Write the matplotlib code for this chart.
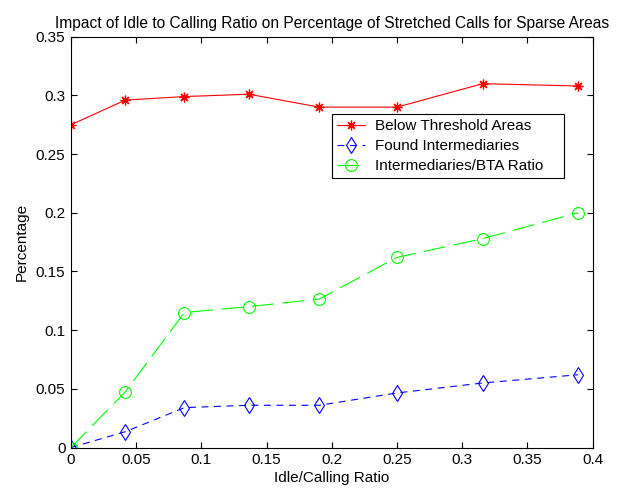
import matplotlib
matplotlib.use('Agg')
import matplotlib.pyplot as plt

plt.rcParams['font.family'] = ['Liberation Sans', 'DejaVu Sans']
plt.rcParams['lines.scale_dashes'] = False

# ratio idle / calling
ratio = [0, 0.0417, 0.0870, 0.1364, 0.1905, 0.25, 0.3158, 0.3889]
below_threshold = [0.275, 0.296, 0.299, 0.301, 0.290, 0.290, 0.310, 0.308]
found_interm = [0, 0.0135, 0.034, 0.036, 0.036, 0.0465, 0.055, 0.062]
interm_bta = [0, 0.0475, 0.115, 0.120, 0.1265, 0.162, 0.178, 0.200]

fig = plt.figure(figsize=(6.21, 4.92), dpi=100)
ax = fig.add_axes([0.1143, 0.0904, 0.8400, 0.8350])

ax.plot(ratio, below_threshold, color='#ff0000', lw=0.8, marker=(8, 2, 0),
        markersize=7, markeredgewidth=0.9, label='Below Threshold Areas')
ax.plot(ratio, found_interm, color='#0000ff', lw=0.8, dashes=(5, 4),
        marker='d', markersize=8, markerfacecolor='none',
        markeredgewidth=0.8, label='Found Intermediaries')
ax.plot(ratio, interm_bta, color='#00ff00', lw=0.8, dashes=(16, 6),
        marker='o', markersize=8.5, markerfacecolor='none',
        markeredgewidth=0.8, label='Intermediaries/BTA Ratio')

ax.set_xlim(0, 0.4)
ax.set_ylim(0, 0.35)
ax.set_xticks([0, 0.05, 0.1, 0.15, 0.2, 0.25, 0.3, 0.35, 0.4])
ax.set_xticklabels(['0', '0.05', '0.1', '0.15', '0.2', '0.25', '0.3', '0.35', '0.4'])
ax.set_yticks([0, 0.05, 0.1, 0.15, 0.2, 0.25, 0.3, 0.35])
ax.set_yticklabels(['0', '0.05', '0.1', '0.15', '0.2', '0.25', '0.3', '0.35'])
ax.tick_params(direction='in', top=True, right=True, length=4, width=0.8,
               labelsize=11, pad=4)
for s in ax.spines.values():
    s.set_linewidth(0.8)

ax.set_title('Impact of Idle to Calling Ratio on Percentage of Stretched Calls for Sparse Areas',
             fontsize=11.2, pad=6)
ax.set_xlabel('Idle/Calling Ratio', fontsize=11, labelpad=3)
ax.set_ylabel('Percentage', fontsize=11, labelpad=5)

# legend box stretched to a fixed width
leg = ax.legend(loc='upper left', bbox_to_anchor=(0.50, 0.656, 0.445, 0.157),
                mode='expand', fontsize=11,
                fancybox=False, edgecolor='black', framealpha=1,
                borderpad=0.35, labelspacing=0.4, handlelength=1.8,
                handletextpad=0.7, borderaxespad=0)
leg.get_frame().set_linewidth(0.8)

fig.savefig('out.png', dpi=100)
